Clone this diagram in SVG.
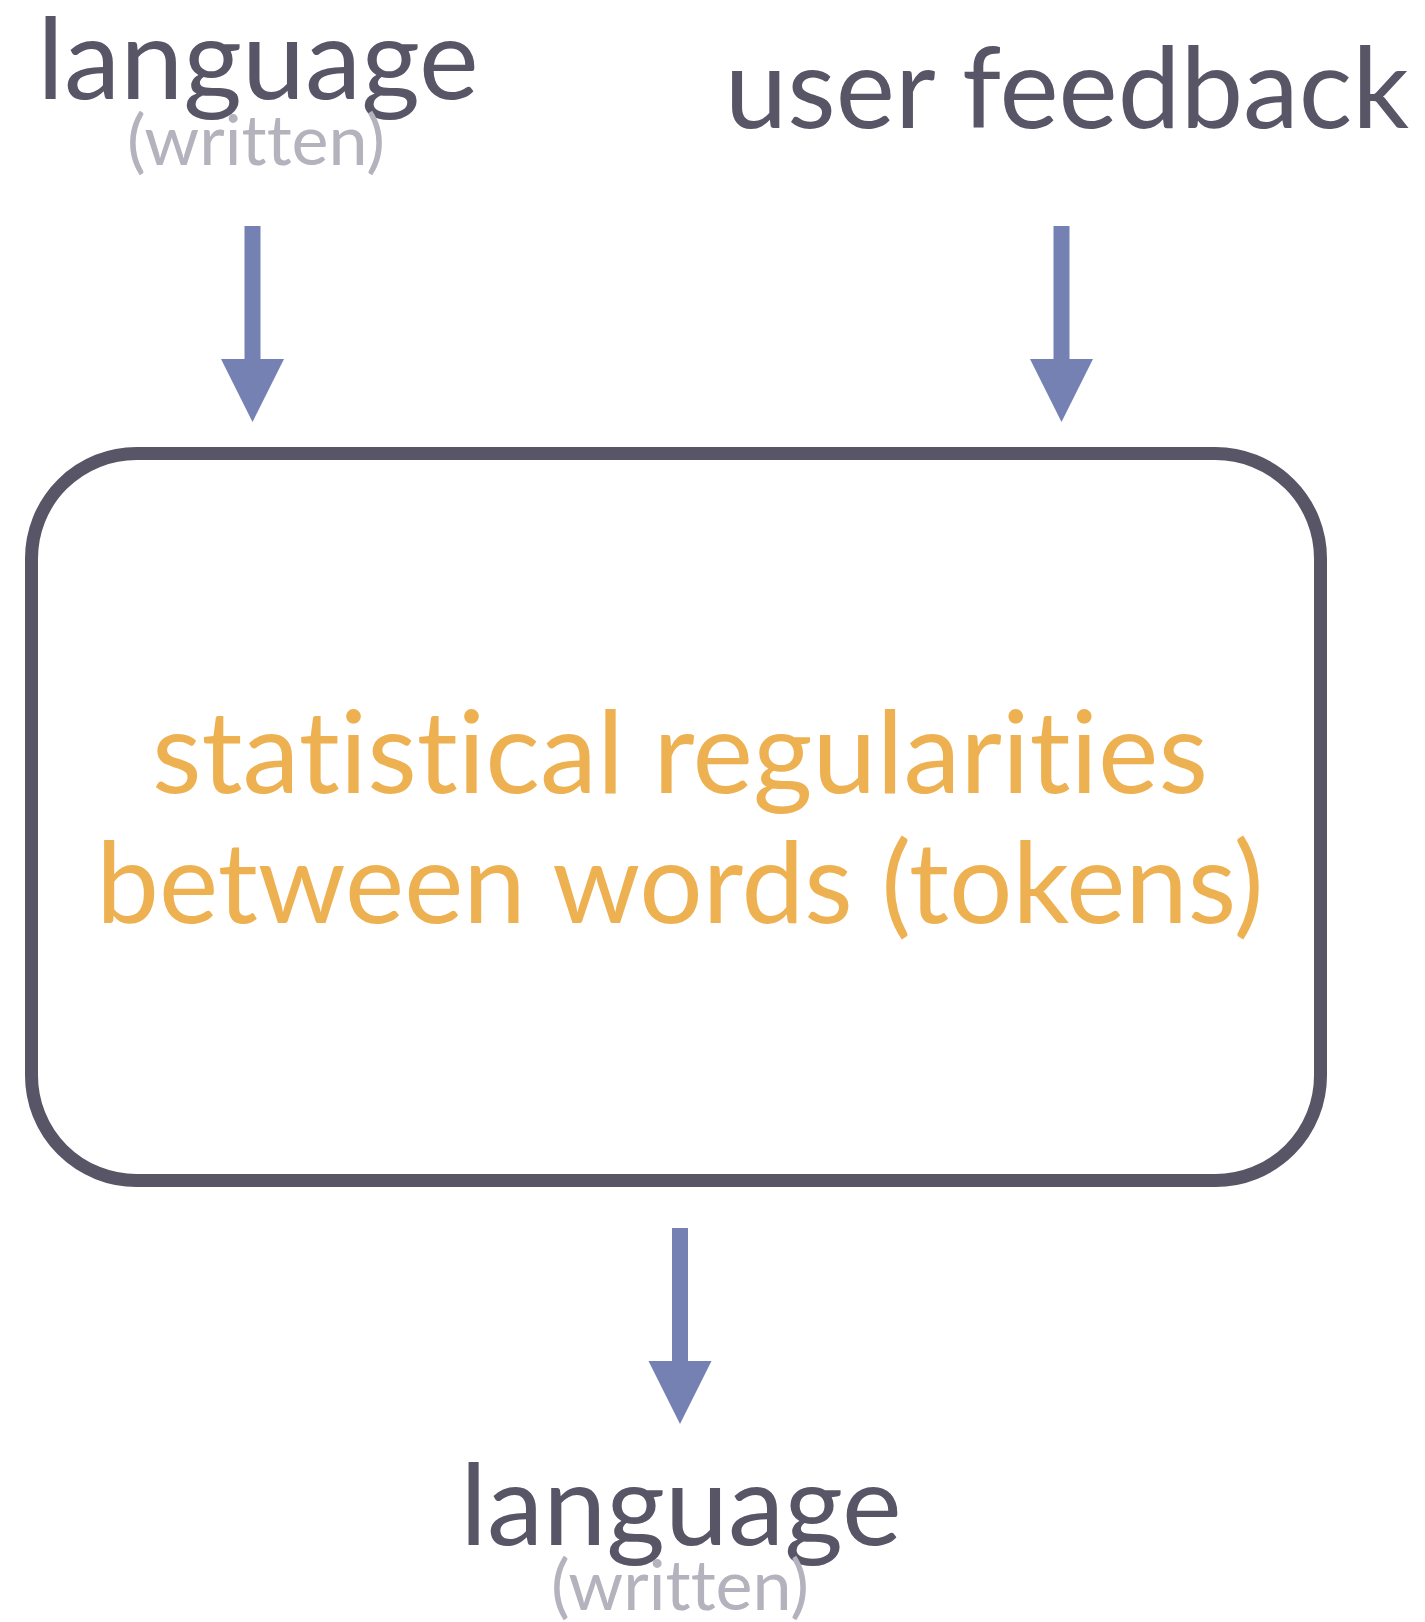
<svg xmlns="http://www.w3.org/2000/svg" width="1425" height="1622" viewBox="0 0 1425 1622">
  <style>
    text { font-family: Lato, "Liberation Sans", sans-serif; text-anchor: middle; font-variant-ligatures: none; font-feature-settings: "liga" 0, "clig" 0; }
    .label { fill: #575566; }
    .sub { fill: #b3b2bd; }
    .core { fill: #edb152; }
    .arrow { fill: #7581b3; }
  </style>
  <defs>
    <!-- downward arrow: shaft + triangular head, tip at origin -->
    <path id="down" d="M -8 -196 H 8 V -63 H 31.5 L 0 0 L -31.5 -63 H -8 Z"/>
  </defs>

  <rect width="1425" height="1622" fill="#ffffff"/>

  <g id="connectors" class="arrow">
    <use href="#down" x="252.5" y="422"/>
    <use href="#down" x="1061.5" y="422"/>
    <use href="#down" x="680" y="1424"/>
  </g>

  <g id="input-language">
    <text class="label" x="258" y="99" font-size="113">language</text>
    <text class="sub" x="256" y="165" font-size="70">(written)</text>
  </g>

  <g id="input-feedback">
    <text class="label" x="1067" y="128" font-size="112">user feedback</text>
  </g>

  <g id="model">
    <rect x="31.5" y="453.5" width="1289" height="727" rx="105" ry="105" fill="none" stroke="#575566" stroke-width="13"/>
    <text class="core" x="680" y="793" font-size="114.5">statistical regularities</text>
    <text class="core" x="680" y="923" font-size="112">between words (tokens)</text>
  </g>

  <g id="output-language">
    <text class="label" x="681" y="1545" font-size="113">language</text>
    <text class="sub" x="680" y="1610" font-size="70">(written)</text>
  </g>
</svg>
